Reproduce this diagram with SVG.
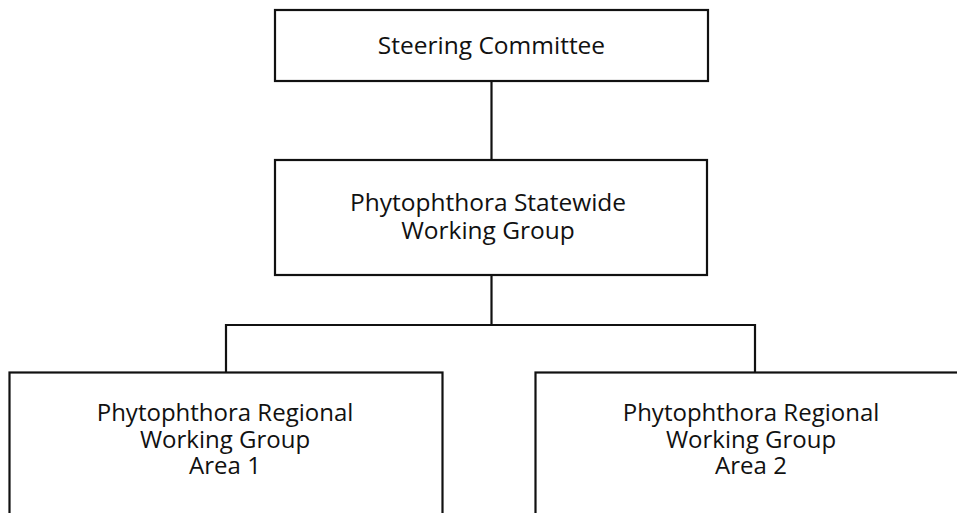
<svg xmlns="http://www.w3.org/2000/svg" width="957" height="513" viewBox="0 0 957 513">
<style>
.box{fill:#fff;stroke:#111;stroke-width:2.2}
.conn{fill:none;stroke:#111;stroke-width:2.2}
text{font-family:"Open Sans","Noto Sans","Liberation Sans",sans-serif;font-size:24.5px;fill:#111;text-anchor:middle}
.sm{font-size:24px}
</style>
<rect width="957" height="513" fill="#fff"/>
<g id="connectors">
<line class="conn" x1="491.5" y1="81" x2="491.5" y2="160"/>
<line class="conn" x1="491.5" y1="275" x2="491.5" y2="325"/>
<polyline class="conn" points="226,372 226,325 755,325 755,372"/>
</g>
<g id="steering">
<rect class="box" x="275" y="10" width="433" height="71"/>
<text x="491.5" y="54">Steering Committee</text>
</g>
<g id="statewide">
<rect class="box" x="275" y="160" width="432" height="115"/>
<text x="488" y="211">Phytophthora Statewide<tspan x="488" dy="28">Working Group</tspan></text>
</g>
<g id="area1">
<rect class="box" x="9.5" y="372.5" width="433" height="160"/>
<text class="sm" x="225" y="421">Phytophthora Regional<tspan x="225" dy="26.5">Working Group</tspan><tspan x="225" dy="26.5">Area 1</tspan></text>
</g>
<g id="area2">
<rect class="box" x="535.5" y="372.5" width="433" height="160"/>
<text class="sm" x="751" y="421">Phytophthora Regional<tspan x="751" dy="26.5">Working Group</tspan><tspan x="751" dy="26.5">Area 2</tspan></text>
</g>
</svg>
